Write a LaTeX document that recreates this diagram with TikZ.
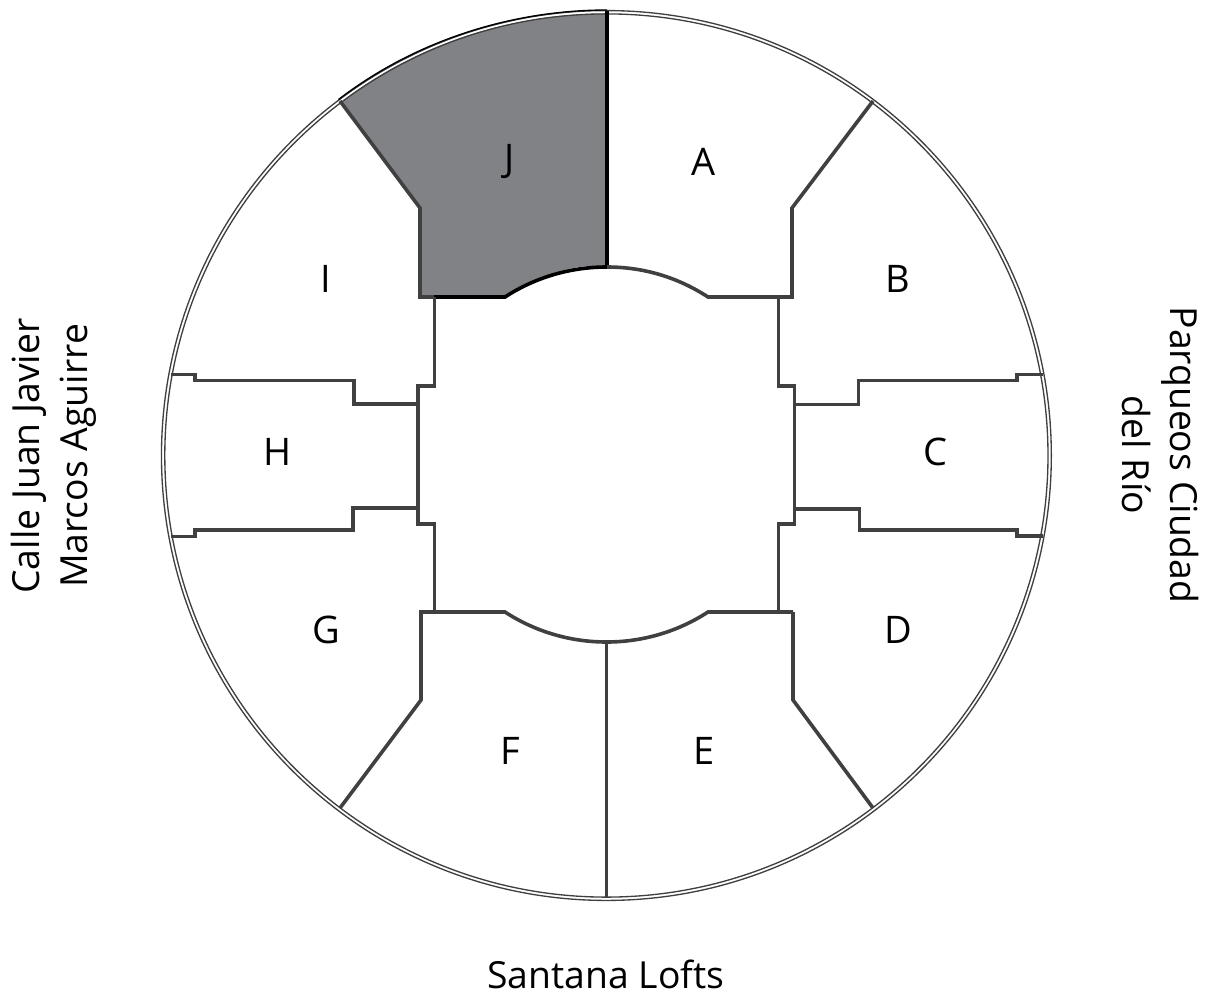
\documentclass[tikz,border=0pt]{standalone}
\usepackage{fontspec}
\setmainfont{Open Sans}
\definecolor{wall}{HTML}{404041}
\definecolor{jfill}{HTML}{808285}
\tikzset{
  wallline/.style={draw=wall,line width=2.7pt,line join=miter},
  boldline/.style={draw=black,line width=2.7pt,line join=miter},
  ringline/.style={draw=wall,line width=1pt},
  unitlabel/.style={font=\fontsize{28.5}{34}\selectfont,text=black,inner sep=0pt,anchor=center},
  sidelabel/.style={font=\fontsize{28}{36}\selectfont,text=black,inner sep=0pt,anchor=center,align=center},
  southlabel/.style={font=\fontsize{28}{30}\selectfont,text=black,inner sep=0pt,anchor=base},
}
\begin{document}
\begin{tikzpicture}[x=0.75pt,y=-0.75pt]
\useasboundingbox (0,0) rectangle (1210,996);
\coordinate (c) at (606.4,455.5);
% highlighted unit J
\fill[jfill] (607,13.5) .. controls (511.3,13.5) and (416.6,43.6) .. (340.7,102.3)
  -- (420,208) -- (420,297) -- (505,297)
  .. controls (566.8,257) and (607,267) .. (607,267) -- cycle;
% ring
\draw[ringline] (c) circle [radius=333.7pt];
\draw[ringline] (c) circle [radius=331.2pt];
\draw[draw=black,line width=1pt] (607,10) .. controls (511,10) and (414.5,41) .. (338.5,99.5);
% radial partitions
\draw[wallline] (340,101) -- (420,208) -- (420,297) -- (436,297);
\draw[boldline] (434,297) -- (505,297) .. controls (535,277.5) and (570,267) .. (607,267);
\draw[boldline] (607,11) -- (607,268);
\draw[wallline] (607,267) .. controls (644,267) and (678,277.5) .. (708,297) -- (792,297) -- (792,208) -- (873,101);
\draw[wallline] (421,612) -- (505,612) .. controls (535,631.5) and (570,642) .. (606.5,642)
  .. controls (643,642) and (678,631.5) .. (708,612) -- (793,612);
\draw[wallline] (422,612) -- (421,612) -- (421,700) -- (340,808);
\draw[wallline] (793,612) -- (793,700) -- (873,808);
\draw[wallline] (606.5,642) -- (606.5,898);
% left court edge and unit H
\draw[wallline] (434.5,297) -- (434.5,386) -- (418,386) -- (418,524) -- (434.5,524) -- (434.5,612);
\draw[wallline] (418,404) -- (354,404) -- (354,380.5) -- (195,380.5) -- (195,374.5) -- (171,374.5);
\draw[wallline] (418,508) -- (353,508) -- (353,530) -- (195,530) -- (195,536.5) -- (171,536.5);
% right court edge and unit C
\draw[wallline] (778.5,297) -- (778.5,386) -- (794.5,386) -- (794.5,524) -- (778.5,524) -- (778.5,612);
\draw[wallline] (794.5,404.5) -- (858.5,404.5) -- (858.5,380.5) -- (1017,380.5) -- (1017,374.5) -- (1043,374.5);
\draw[wallline] (794.5,509) -- (859.5,509) -- (859.5,530) -- (1017,530) -- (1017,536) -- (1043,536);
% labels
\node[unitlabel] (lA) at (704,162) {A};
\node[unitlabel] (lB) at (898,279) {B};
\node[unitlabel] (lC) at (935,452) {C};
\node[unitlabel] (lD) at (898,630) {D};
\node[unitlabel] (lE) at (704,751) {E};
\node[unitlabel] (lF) at (510,751) {F};
\node[unitlabel] (lG) at (326,630) {G};
\node[unitlabel] (lH) at (278,452) {H};
\node[unitlabel] (lI) at (326,279) {I};
\node[unitlabel] (lJ) at (510,162) {J};
\node[sidelabel,rotate=90] (west) at (54,456) {Calle Juan Javier\\Marcos Aguirre};
\node[sidelabel,rotate=-90] (east) at (1160,455) {Parqueos Ciudad\\del Río};
\node[southlabel] (south) at (606,988) {Santana Lofts};
\end{tikzpicture}
\end{document}
